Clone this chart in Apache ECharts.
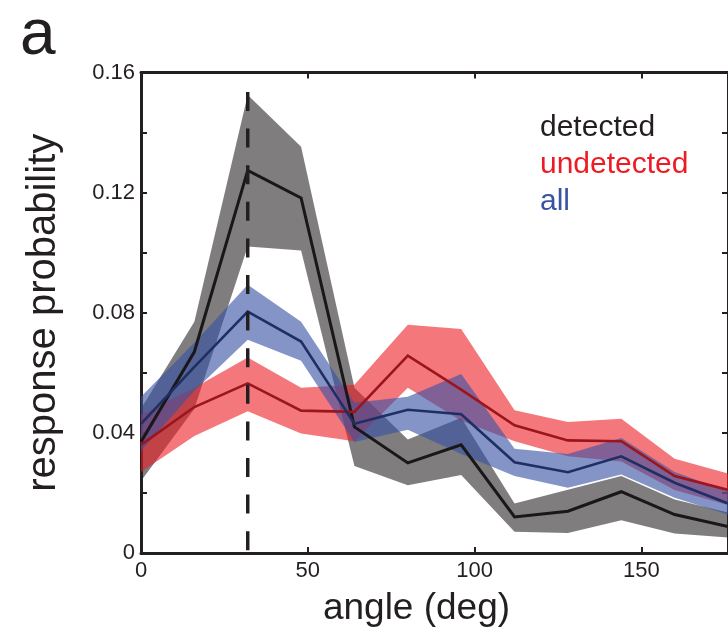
<!DOCTYPE html>
<html>
<head>
<meta charset="utf-8">
<script src="https://cdn.jsdelivr.net/npm/echarts@6/dist/echarts.min.js"></script>
<style>
  html, body { margin: 0; padding: 0; background: #ffffff; }
  #chart { width: 728px; height: 632px; }
</style>
</head>
<body>
<div id="chart"></div>
<script>
// Stimulus angles (deg)
const angles = [0, 16, 32, 48, 64, 80, 96, 112, 128, 144, 160, 176];

// Detected: mean response probability and confidence band
const detectedMean = [0.037, 0.067, 0.1274, 0.1182, 0.042, 0.030, 0.036, 0.012, 0.0139, 0.0204, 0.0128, 0.0088];
const detectedLow  = [0.024, 0.048, 0.1021, 0.1007, 0.029, 0.0226, 0.026, 0.0071, 0.0067, 0.0109, 0.0065, 0.0052];
const detectedHigh = [0.048, 0.077, 0.1525, 0.1353, 0.055, 0.0378, 0.045, 0.0165, 0.0211, 0.0256, 0.0178, 0.0135];

// Undetected
const undetectedMean = [0.036, 0.0486, 0.0565, 0.0474, 0.047, 0.0657, 0.0544, 0.0425, 0.0375, 0.0372, 0.0256, 0.021];
const undetectedLow  = [0.027, 0.039, 0.0472, 0.0398, 0.0372, 0.055, 0.044, 0.0372, 0.0322, 0.0305, 0.021, 0.016];
const undetectedHigh = [0.046, 0.055, 0.0651, 0.055, 0.056, 0.076, 0.0746, 0.0475, 0.0436, 0.0447, 0.0314, 0.0265];

// All trials
const allMean = [0.043, 0.062, 0.0804, 0.0704, 0.043, 0.0477, 0.0462, 0.0302, 0.0269, 0.0322, 0.0234, 0.0165];
const allLow  = [0.034, 0.054, 0.071, 0.064, 0.037, 0.041, 0.033, 0.0256, 0.0217, 0.0261, 0.0184, 0.0128];
const allHigh = [0.052, 0.070, 0.0893, 0.077, 0.050, 0.052, 0.0596, 0.0347, 0.033, 0.0383, 0.027, 0.0205];

// Preferred angle marker (dashed vertical line)
const markerAngle = 32;
const markerExtent = [0.1535, 0];

// Axis tick labels
const yTickLabels = ['0', '0.04', '0.08', '0.12', '0.16'];
const xTickLabels = ['0', '50', '100', '150'];

const INK = '#231f20';
const FONT = '"Liberation Sans", Arial, Helvetica, sans-serif';

function pairs(ys) { return angles.map((a, i) => [a, ys[i]]); }

// Shaded band: one polygon running along the upper bound and back along the lower bound
function band(key, low, high, fill) {
  return {
    type: 'custom', name: key + ' band', silent: true, clip: true,
    data: angles.map((a, i) => [a, low[i], high[i]]),
    encode: { x: 0, y: [1, 2] },
    renderItem: function (params, api) {
      if (params.dataIndex !== 0) return null;
      const pts = [];
      for (let i = 0; i < angles.length; i++) pts.push(api.coord([angles[i], high[i]]));
      for (let i = angles.length - 1; i >= 0; i--) pts.push(api.coord([angles[i], low[i]]));
      return {
        type: 'polygon',
        shape: { points: pts },
        style: { fill: fill, stroke: null }
      };
    }
  };
}

function meanLine(name, ys, color, width) {
  return {
    type: 'line', name: name, data: pairs(ys), symbol: 'none',
    lineStyle: { color: color, width: width, join: 'miter' },
    itemStyle: { color: color }, silent: true
  };
}

const chart = echarts.init(document.getElementById('chart'), null, { renderer: 'canvas' });

const option = {
  animation: false,
  backgroundColor: '#ffffff',
  grid: { left: 141, top: 72.5, width: 591, height: 481, containLabel: false },
  graphic: [{
    type: 'text', left: 20, top: 4,
    style: { text: 'a', font: '64px ' + FONT, fill: INK }
  }],
  legend: {
    orient: 'vertical', left: 535, top: 109, padding: 0, itemGap: 0,
    itemWidth: 0, itemHeight: 0, icon: 'rect', selectedMode: false,
    textStyle: { fontFamily: FONT, fontSize: 30, lineHeight: 37 },
    data: [
      { name: 'detected', textStyle: { color: INK } },
      { name: 'undetected', textStyle: { color: '#ed1c24' } },
      { name: 'all', textStyle: { color: '#3953a4' } }
    ]
  },
  xAxis: [
    {
      type: 'value', position: 'bottom', min: 0, max: 176, interval: 50,
      name: 'angle (deg)', nameLocation: 'middle', nameGap: 37,
      nameTextStyle: { fontFamily: FONT, fontSize: 37, color: INK, padding: [0, 36, 0, 0] },
      axisLine: { show: true, onZero: false, lineStyle: { color: INK, width: 3 } },
      axisTick: { show: true, inside: true, length: 6, lineStyle: { color: INK, width: 2 } },
      axisLabel: {
        show: true, margin: 7, fontFamily: FONT, fontSize: 22, color: INK,
        showMaxLabel: false,
        formatter: v => (xTickLabels.includes(String(v)) ? String(v) : '')
      },
      splitLine: { show: false }
    },
    {
      type: 'value', position: 'top', min: 0, max: 176, interval: 50,
      axisLine: { show: true, onZero: false, lineStyle: { color: INK, width: 3 } },
      axisTick: { show: true, inside: true, length: 6, lineStyle: { color: INK, width: 2 } },
      axisLabel: { show: false }, splitLine: { show: false }
    }
  ],
  yAxis: [
    {
      type: 'value', position: 'left', min: 0, max: 0.16, interval: 0.02,
      name: 'response probability', nameLocation: 'middle', nameGap: 77,
      nameTextStyle: { fontFamily: FONT, fontSize: 40, color: INK },
      axisLine: { show: true, onZero: false, lineStyle: { color: INK, width: 3 } },
      axisTick: { show: true, inside: true, length: 6, lineStyle: { color: INK, width: 2 } },
      axisLabel: {
        show: true, margin: 6, fontFamily: FONT, fontSize: 22, color: INK,
        formatter: v => {
          const s = v === 0 ? '0' : v.toFixed(2);
          return yTickLabels.includes(s) ? s : '';
        }
      },
      splitLine: { show: false }
    },
    {
      type: 'value', position: 'right', min: 0, max: 0.16, interval: 0.02,
      axisLine: { show: true, onZero: false, lineStyle: { color: INK, width: 3 } },
      axisTick: { show: true, inside: true, length: 6, lineStyle: { color: INK, width: 2 } },
      axisLabel: { show: false }, splitLine: { show: false }
    }
  ],
  series: [
    band('detected', detectedLow, detectedHigh, 'rgba(35,31,32,0.58)'),
    meanLine('detected', detectedMean, '#1a1718', 3),
    band('undetected', undetectedLow, undetectedHigh, 'rgba(237,28,36,0.6)'),
    meanLine('undetected', undetectedMean, '#9a161c', 2.6),
    band('all', allLow, allHigh, 'rgba(57,83,164,0.62)'),
    meanLine('all', allMean, '#1f2f63', 2.6),
    {
      type: 'line', name: 'marker', silent: true, symbol: 'none',
      data: markerExtent.map(v => [markerAngle, v]),
      lineStyle: { color: INK, width: 3.5, type: [19, 17.6] }
    }
  ]
};

chart.setOption(option);
</script>
</body>
</html>
